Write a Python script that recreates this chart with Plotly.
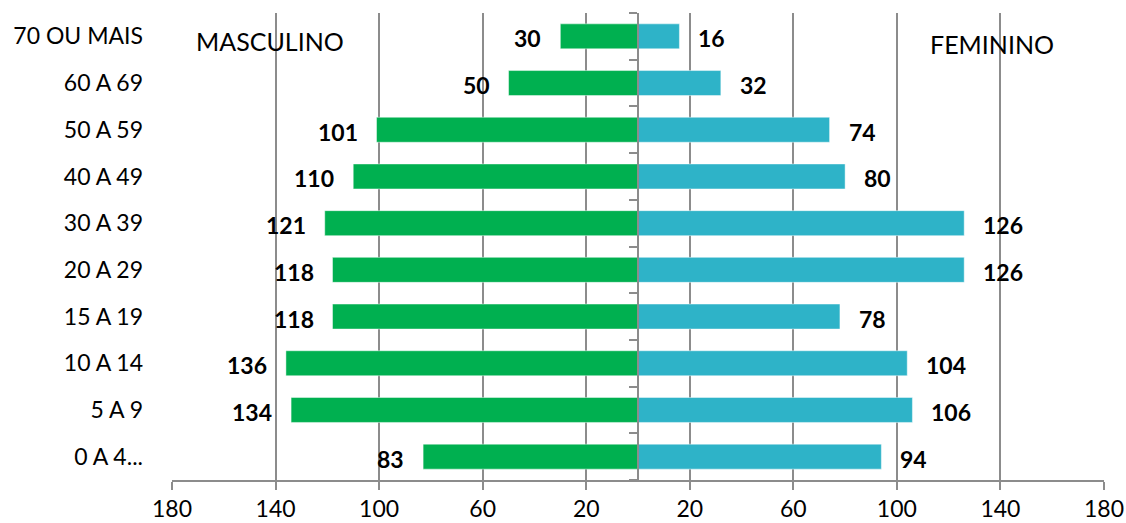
import plotly.graph_objects as go

# ---- data (bottom to top) ----
categories = ["0 A 4...", "5 A 9", "10 A 14", "15 A 19", "20 A 29",
              "30 A 39", "40 A 49", "50 A 59", "60 A 69", "70 OU MAIS"]
masculino = [83, 134, 136, 118, 118, 121, 110, 101, 50, 30]
feminino = [94, 106, 104, 78, 126, 126, 80, 74, 32, 16]
tick_values = [-180, -140, -100, -60, -20, 20, 60, 100, 140, 180]
tick_labels = ["180", "140", "100", "60", "20", "20", "60", "100", "140", "180"]

# ---- style ----
GREEN = "#00B050"
BLUE = "#2EB3C8"
GRID = "#8C8C8C"
FONT = "Lato"

fig = go.Figure()

fig.add_trace(go.Bar(
    y=categories, x=[-v for v in masculino], orientation="h",
    marker=dict(color=GREEN, line=dict(color="rgba(255,255,255,0.45)", width=1)),
    yaxis="y", hoverinfo="skip", name="MASCULINO"))

fig.add_trace(go.Bar(
    y=categories, x=feminino, orientation="h",
    marker=dict(color=BLUE, line=dict(color="rgba(255,255,255,0.45)", width=1)),
    yaxis="y2", hoverinfo="skip", name="FEMININO"))

# value labels, placed at the bar ends with a fixed pixel gap
label_font = dict(family=FONT, size=23, color="black", weight="bold")
for cat, v in zip(categories, masculino):
    fig.add_annotation(x=-v, y=cat, xref="x", yref="y", text=str(v),
                       xanchor="right", yanchor="middle", xshift=-17, yshift=-2,
                       showarrow=False, font=label_font)
for cat, v in zip(categories, feminino):
    fig.add_annotation(x=v, y=cat, xref="x", yref="y", text=str(v),
                       xanchor="left", yanchor="middle", xshift=17, yshift=-2,
                       showarrow=False, font=label_font)

# white boxes behind the section titles (hide grid lines there)
fig.add_shape(type="rect", xref="x", yref="paper", x0=-172, x1=-108, y0=0.874, y1=1.0,
              fillcolor="white", line=dict(width=0), layer="between")
fig.add_shape(type="rect", xref="x", yref="paper", x0=118, x1=160, y0=0.842, y1=1.0,
              fillcolor="white", line=dict(width=0), layer="between")

fig.add_annotation(text="MASCULINO", xref="x", yref="paper", x=-142, y=0.9406,
                   xanchor="center", yanchor="middle",
                   showarrow=False, font=dict(family=FONT, size=25, color="black"))
fig.add_annotation(text="FEMININO", xref="x", yref="paper", x=136.8, y=0.933,
                   xanchor="center", yanchor="middle",
                   showarrow=False, font=dict(family=FONT, size=25, color="black"))

fig.update_layout(
    width=1126, height=523,
    margin=dict(l=172, r=22, t=13, b=43, autoexpand=False),
    paper_bgcolor="white", plot_bgcolor="white",
    showlegend=False, barmode="relative", bargap=0.465,
    xaxis=dict(range=[-180, 180], tickvals=tick_values, ticktext=tick_labels,
               ticks="outside", ticklen=8, tickwidth=1.5, tickcolor=GRID,
               showgrid=True, gridcolor=GRID, gridwidth=1.5, automargin=False,
               showline=True, linecolor=GRID, linewidth=1.5, zeroline=False,
               tickfont=dict(family=FONT, size=23, color="black")),
    yaxis=dict(type="category", categoryorder="array", categoryarray=categories,
               range=[-0.5, 9.5], showgrid=False, showline=False, ticks="",
               zeroline=False, ticklabelstandoff=28, automargin=False,
               tickfont=dict(family=FONT, size=23, color="black")),
    yaxis2=dict(type="category", categoryorder="array", categoryarray=categories,
                range=[-0.5, 9.5], overlaying="y", anchor="free", position=0.5,
                side="left", showticklabels=False, ticks="outside",
                tickson="boundaries", ticklen=8, tickwidth=1.5, tickcolor=GRID,
                showline=True, linecolor=GRID, linewidth=1.5, showgrid=False,
                zeroline=False, automargin=False),
)

fig.write_html("out.html", config={"displayModeBar": False},
               post_script="document.body.style.margin='0';document.body.style.overflow='hidden';")
